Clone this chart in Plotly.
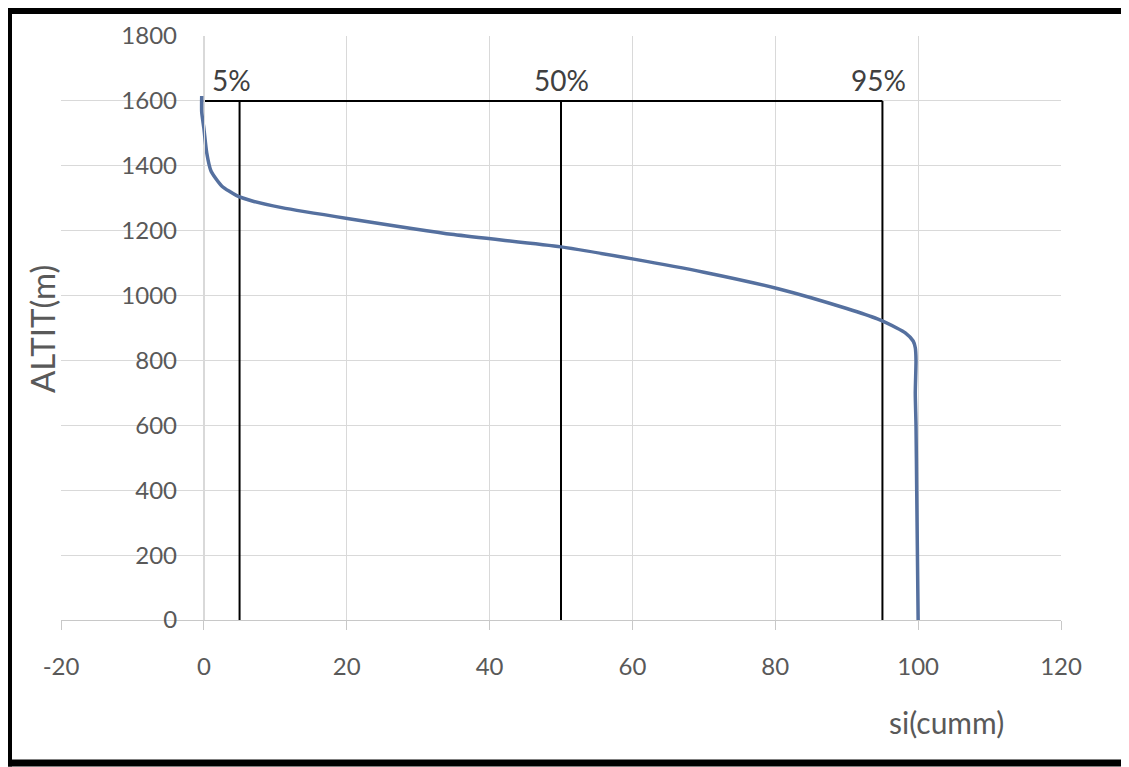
import plotly.graph_objects as go

# ---- data ----
si_cumm = [-0.3, -0.3, 0.0, 0.4, 1.0, 2.5, 4.6, 7.0, 10.9, 20.3, 35.0, 50.0,
           60.0, 70.0, 80.4, 90.0, 94.3, 97.0, 98.2, 99.3, 99.6, 99.7, 99.6,
           99.7, 99.8, 99.9, 100.0]
altit = [1615, 1565, 1516, 1440, 1384, 1338, 1308, 1290, 1271, 1237, 1188, 1150,
         1113, 1072, 1021, 960, 928, 900, 885, 860, 839, 800, 700,
         600, 400, 200, 0]

pct_values = [5, 50, 95]
pct_labels = ["5%", "50%", "95%"]
pct_label_x = [3.8, 50, 94.5]
pct_top = 1600
pct_label_y = 1665

x_ticks = [-20, 0, 20, 40, 60, 80, 100, 120]
x_tick_text = ["-20", "0", "20", "40", "60", "80", "100", "120"]
y_ticks = [0, 200, 400, 600, 800, 1000, 1200, 1400, 1600, 1800]

# ---- layout geometry (page body adds an 8px offset) ----
OFF = 8
W, H = 1129 - OFF, 767 - OFF
L, T = 61 - OFF, 34 - OFF
R = W - (1061 - OFF)
B = H - (620 - OFF)
pw, ph = W - L - R, H - T - B


def px(xp):
    """image x pixel -> paper x"""
    return (xp - OFF - L) / pw


def py(yp):
    """image y pixel -> paper y"""
    return (H - B - (yp - OFF)) / ph


FONT = "Lato"
GRAY = "#595959"
GRID = "#d9d9d9"

fig = go.Figure()

# percentile guide lines
for v in pct_values:
    fig.add_trace(go.Scatter(x=[v, v], y=[0, pct_top], mode="lines",
                             line=dict(color="black", width=2),
                             showlegend=False, hoverinfo="skip"))
fig.add_trace(go.Scatter(x=[0, pct_values[-1]], y=[pct_top, pct_top], mode="lines",
                         line=dict(color="black", width=2),
                         showlegend=False, hoverinfo="skip"))

# main curve
fig.add_trace(go.Scatter(x=si_cumm, y=altit, mode="lines",
                         line=dict(color="#55709f", width=3.5, shape="spline", smoothing=0.6),
                         showlegend=False))

for lx, lab in zip(pct_label_x, pct_labels):
    fig.add_annotation(x=lx, y=pct_label_y, text=lab, showarrow=False,
                       xanchor="center", yanchor="middle",
                       font=dict(family=FONT, size=28, color="#404040"))

# axis titles
fig.add_annotation(xref="paper", yref="paper", x=px(946), y=py(722), text="si(cumm)",
                   xanchor="center", yanchor="middle",
                   showarrow=False, font=dict(family=FONT, size=30, color=GRAY))
fig.add_annotation(xref="paper", yref="paper", x=px(42), y=py(328), text="ALTIT(m)",
                   xanchor="center", yanchor="middle",
                   textangle=-90, showarrow=False,
                   font=dict(family=FONT, size=33, color=GRAY))

# black frame (left, top, bottom)
shapes = [
    dict(type="rect", xref="paper", yref="paper", x0=px(5), x1=px(12), y0=py(767), y1=py(4),
         fillcolor="black", line=dict(width=0), layer="above"),
    dict(type="rect", xref="paper", yref="paper", x0=px(5), x1=px(1140), y0=py(12), y1=py(4),
         fillcolor="black", line=dict(width=0), layer="above"),
    dict(type="rect", xref="paper", yref="paper", x0=px(5), x1=px(1140), y0=py(767), y1=py(760),
         fillcolor="black", line=dict(width=0), layer="above"),
]
fig.update_layout(shapes=shapes)

fig.update_layout(
    width=W, height=H,
    margin=dict(l=L, r=R, t=T, b=B),
    paper_bgcolor="white", plot_bgcolor="white",
    showlegend=False,
    xaxis=dict(range=[-20, 120], tickvals=x_ticks, ticktext=x_tick_text,
               showgrid=True, gridcolor=GRID,
               gridwidth=1, zeroline=False, showline=True, linecolor="#c8c8c8",
               linewidth=1, ticks="outside", ticklen=9, tickcolor="#c8c8c8",
               ticklabelstandoff=16,
               tickfont=dict(family=FONT, size=24, color=GRAY)),
    yaxis=dict(range=[0, 1800], tickvals=y_ticks, showgrid=True, gridcolor=GRID,
               gridwidth=1, zeroline=False, showline=True, linecolor=GRID,
               anchor="free", position=20 / 140, ticks="", ticklabelstandoff=22,
               tickfont=dict(family=FONT, size=24, color=GRAY)),
)

fig.write_html("out.html")
